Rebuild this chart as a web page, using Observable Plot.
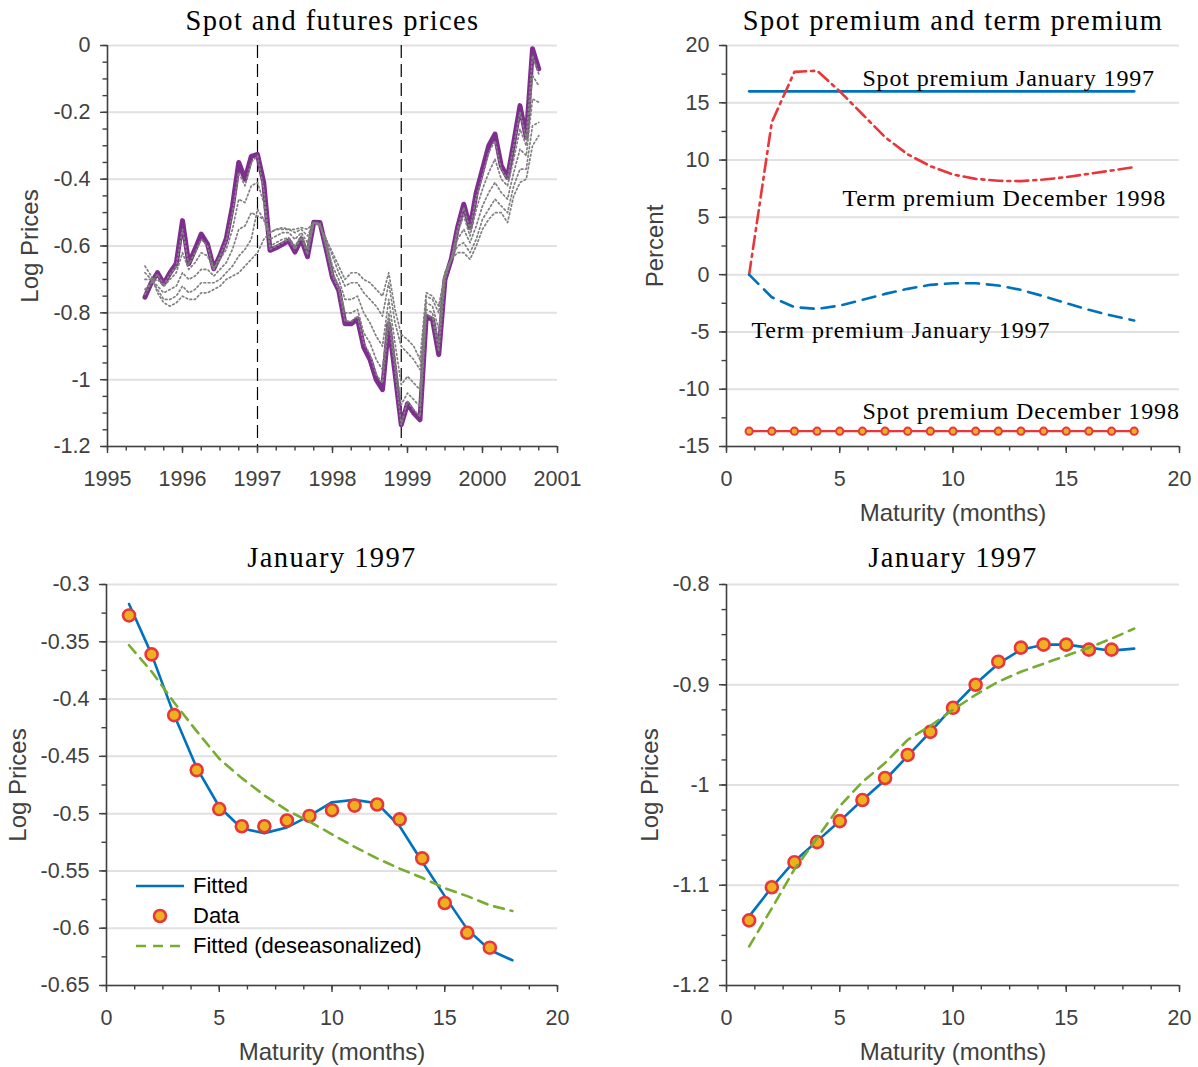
<!DOCTYPE html>
<html>
<head>
<meta charset="utf-8">
<script src="https://cdn.jsdelivr.net/npm/d3@7"></script>
<script src="https://cdn.jsdelivr.net/npm/@observablehq/plot@0.6"></script>
<style>
  html, body { margin: 0; padding: 0; background: #fff; }
  #root { position: relative; width: 1198px; height: 1067px; overflow: hidden; background: #fff; }
  .panel { position: absolute; }
  .legend { position: absolute; font-family: "Liberation Sans", Arial, sans-serif; font-size: 22px; color: #000; }
  .legend .row { display: flex; align-items: center; height: 30px; }
  .legend svg { display: block; margin-right: 7px; }
</style>
</head>
<body>
<div id="root"></div>
<script>
// ---------------- DATA ----------------
// Panel 1: monthly log spot price, July 1995 .. October 2000
const firstYear = 1995, firstMonth = 7;
const spotLog = [-0.753,-0.71,-0.68,-0.713,-0.68,-0.653,-0.524,-0.653,-0.61,-0.564,-0.594,-0.668,-0.628,-0.578,-0.48,-0.35,-0.40,-0.332,-0.326,-0.41,-0.613,-0.605,-0.595,-0.584,-0.618,-0.579,-0.632,-0.529,-0.53,-0.61,-0.695,-0.733,-0.833,-0.833,-0.818,-0.903,-0.94,-1.0,-1.03,-0.833,-0.98,-1.135,-1.072,-1.10,-1.12,-0.81,-0.82,-0.925,-0.70,-0.64,-0.545,-0.475,-0.545,-0.44,-0.37,-0.30,-0.265,-0.36,-0.395,-0.29,-0.18,-0.275,-0.01,-0.07];
// log futures prices for several maturities (months) at each date
const fut1 = [-0.745,-0.71,-0.685,-0.715,-0.685,-0.66,-0.55,-0.655,-0.62,-0.58,-0.60,-0.668,-0.63,-0.585,-0.50,-0.38,-0.42,-0.35,-0.33,-0.43,-0.61,-0.60,-0.59,-0.58,-0.61,-0.575,-0.625,-0.529,-0.532,-0.607,-0.69,-0.73,-0.825,-0.825,-0.81,-0.89,-0.925,-0.985,-1.01,-0.825,-0.97,-1.135,-1.065,-1.09,-1.11,-0.805,-0.815,-0.915,-0.70,-0.64,-0.55,-0.485,-0.55,-0.455,-0.39,-0.32,-0.285,-0.37,-0.40,-0.30,-0.20,-0.28,-0.03,-0.085];
const fut3 = [-0.73,-0.71,-0.70,-0.72,-0.70,-0.68,-0.62,-0.67,-0.65,-0.62,-0.63,-0.67,-0.64,-0.61,-0.55,-0.46,-0.47,-0.42,-0.41,-0.47,-0.60,-0.59,-0.58,-0.575,-0.60,-0.57,-0.61,-0.53,-0.535,-0.60,-0.68,-0.72,-0.80,-0.80,-0.79,-0.86,-0.89,-0.94,-0.97,-0.80,-0.94,-1.075,-1.04,-1.06,-1.08,-0.79,-0.80,-0.89,-0.69,-0.64,-0.56,-0.51,-0.57,-0.49,-0.43,-0.38,-0.34,-0.40,-0.42,-0.34,-0.25,-0.30,-0.09,-0.12];
const fut6 = [-0.70,-0.70,-0.72,-0.74,-0.73,-0.72,-0.68,-0.70,-0.69,-0.67,-0.67,-0.69,-0.67,-0.65,-0.61,-0.55,-0.54,-0.50,-0.51,-0.52,-0.58,-0.57,-0.56,-0.56,-0.58,-0.56,-0.59,-0.53,-0.54,-0.59,-0.66,-0.70,-0.76,-0.76,-0.75,-0.80,-0.83,-0.87,-0.90,-0.76,-0.89,-1.015,-0.99,-1.01,-1.03,-0.77,-0.78,-0.85,-0.68,-0.64,-0.58,-0.55,-0.59,-0.54,-0.48,-0.44,-0.41,-0.44,-0.46,-0.38,-0.31,-0.33,-0.16,-0.17];
const fut11 = [-0.68,-0.70,-0.73,-0.76,-0.76,-0.75,-0.72,-0.74,-0.73,-0.71,-0.71,-0.71,-0.70,-0.68,-0.66,-0.63,-0.61,-0.58,-0.49,-0.52,-0.56,-0.55,-0.55,-0.55,-0.56,-0.55,-0.57,-0.53,-0.54,-0.58,-0.63,-0.68,-0.72,-0.71,-0.71,-0.74,-0.76,-0.78,-0.81,-0.71,-0.83,-0.90,-0.92,-0.94,-0.97,-0.75,-0.76,-0.80,-0.68,-0.64,-0.60,-0.59,-0.62,-0.58,-0.52,-0.49,-0.46,-0.48,-0.50,-0.42,-0.37,-0.37,-0.24,-0.23];
const fut17 = [-0.66,-0.69,-0.74,-0.77,-0.78,-0.77,-0.75,-0.76,-0.76,-0.74,-0.74,-0.73,-0.72,-0.70,-0.69,-0.68,-0.66,-0.64,-0.62,-0.58,-0.56,-0.55,-0.545,-0.55,-0.55,-0.545,-0.55,-0.53,-0.54,-0.58,-0.62,-0.66,-0.70,-0.68,-0.68,-0.70,-0.71,-0.73,-0.75,-0.68,-0.79,-0.865,-0.88,-0.90,-0.94,-0.74,-0.75,-0.78,-0.68,-0.64,-0.62,-0.62,-0.64,-0.60,-0.55,-0.52,-0.50,-0.50,-0.53,-0.45,-0.41,-0.40,-0.30,-0.27];
const markedDates = [1997.0, 1998 + 11 / 12]; // January 1997, December 1998

// Panel 2: premiums by maturity (percent)
const maturities = [1,2,3,4,5,6,7,8,9,10,11,12,13,14,15,16,17,18];
const spotPremiumJan97 = 16.0;
const spotPremiumDec98 = -13.66;
const termPremiumDec98 = [0,13.3,17.7,17.8,16.0,14.0,12.0,10.5,9.47,8.74,8.36,8.19,8.16,8.30,8.51,8.80,9.09,9.38];
const termPremiumJan97 = [0,-1.97,-2.84,-2.99,-2.70,-2.20,-1.68,-1.24,-0.89,-0.75,-0.75,-0.95,-1.33,-1.88,-2.49,-3.07,-3.57,-4.0];
const premiumLabels = [
  {text: "Spot premium January 1997", x: 6.0, y: 17.1},
  {text: "Term premium December 1998", x: 5.12, y: 6.7},
  {text: "Term premium January 1997", x: 1.1, y: -4.9},
  {text: "Spot premium December 1998", x: 6.0, y: -11.9}
];

// Panel 3: term structure, January 1997
const dataMaturities = [1,2,3,4,5,6,7,8,9,10,11,12,13,14,15,16,17];
const dataA = [-0.327,-0.361,-0.414,-0.462,-0.496,-0.511,-0.511,-0.506,-0.502,-0.497,-0.493,-0.492,-0.505,-0.539,-0.578,-0.604,-0.617];
const fittedA = [-0.317,-0.361,-0.414,-0.460,-0.494,-0.513,-0.517,-0.512,-0.502,-0.490,-0.488,-0.491,-0.511,-0.542,-0.572,-0.601,-0.619,-0.628];
const deseasA = [-0.353,-0.376,-0.403,-0.428,-0.452,-0.469,-0.484,-0.497,-0.507,-0.518,-0.529,-0.539,-0.548,-0.556,-0.565,-0.572,-0.580,-0.585];

// Panel 4: term structure (second date)
const dataB = [-1.135,-1.102,-1.077,-1.057,-1.036,-1.015,-0.993,-0.970,-0.947,-0.923,-0.900,-0.877,-0.863,-0.860,-0.860,-0.865,-0.865];
const fittedB = [-1.131,-1.102,-1.076,-1.056,-1.036,-1.015,-0.995,-0.971,-0.947,-0.922,-0.899,-0.879,-0.865,-0.860,-0.860,-0.863,-0.866,-0.864];
const deseasB = [-1.161,-1.123,-1.084,-1.053,-1.021,-0.997,-0.978,-0.955,-0.941,-0.925,-0.910,-0.897,-0.887,-0.879,-0.871,-0.863,-0.854,-0.844];

// Tick labels
const yearTicks = [1995,1996,1997,1998,1999,2000,2001];
const logTicksTL = [0,-0.2,-0.4,-0.6,-0.8,-1,-1.2];
const pctTicks = [-15,-10,-5,0,5,10,15,20];
const matTicks = [0,5,10,15,20];
const logTicksBL = [-0.3,-0.35,-0.4,-0.45,-0.5,-0.55,-0.6,-0.65];
const logTicksBR = [-0.8,-0.9,-1,-1.1,-1.2];

// ---------------- STYLE ----------------
const BLUE = "#0072BD", RED = "#E8363B", ORANGE = "#EDB120", GREEN = "#77AC30", PURPLE = "#7E2F8E", GREY = "#808080";
const AXIS = "#404040";
const SANS = "'Liberation Sans', Arial, Helvetica, sans-serif";
const SERIF = "'Liberation Serif', 'Times New Roman', serif";
const baseStyle = {fontFamily: SANS, fontSize: "21.5px", color: AXIS, background: "transparent", overflow: "visible"};
const num = d => String(+(+d).toFixed(3));

function frameMarks({xDomain, yDomain, xTicks, xMinor, yTicks, yMinor}) {
  return [
    Plot.axisX(xMinor, {tickSize: 4.5, tickFormat: () => "", label: null, strokeWidth: 1.4}),
    Plot.axisX(xTicks, {tickSize: 7, tickPadding: 17, tickFormat: num, label: null, strokeWidth: 1.4}),
    Plot.axisY(yMinor, {tickSize: 4.5, tickFormat: () => "", label: null, strokeWidth: 1.4}),
    Plot.axisY(yTicks, {tickSize: 7, tickPadding: 10, tickFormat: num, label: null, strokeWidth: 1.4}),
    Plot.ruleX([xDomain[0]], {stroke: AXIS, strokeWidth: 1.6}),
    Plot.ruleY([yDomain[0]], {stroke: AXIS, strokeWidth: 1.6})
  ];
}
function grid(ticks) {
  return Plot.gridY(ticks, {stroke: "#e1e1e1", strokeOpacity: 1, strokeWidth: 2});
}
const titleTexts = new Set();
function title(t, dy) {
  titleTexts.add(t);
  return Plot.text([t], {frameAnchor: "top", dy, textAnchor: "middle", lineAnchor: "middle", fontFamily: SERIF, fontSize: 28.5, fill: "#000"});
}
function yLabel(t, dx) {
  return Plot.text([t], {frameAnchor: "left", dx, rotate: -90, textAnchor: "middle", lineAnchor: "middle", fontSize: 24, fill: AXIS});
}
function xLabel(t, dy) {
  return Plot.text([t], {frameAnchor: "bottom", dy, textAnchor: "middle", lineAnchor: "middle", fontSize: 24, fill: AXIS});
}
const annotationTexts = new Set(premiumLabels.map(d => d.text));

const root = document.getElementById("root");
function place(node, left, top) {
  // serif text in the reference is a wide (Computer Modern) face: widen with letter spacing
  node.querySelectorAll("text").forEach(el => {
    if (titleTexts.has(el.textContent)) el.style.letterSpacing = "1.4px";
    else if (annotationTexts.has(el.textContent)) el.style.letterSpacing = "0.85px";
  });
  const d = document.createElement("div");
  d.className = "panel";
  d.style.left = left + "px";
  d.style.top = top + "px";
  d.appendChild(node);
  root.appendChild(d);
}

// ---------------- PANEL 1 ----------------
const dates = spotLog.map((_, i) => firstYear + (firstMonth - 1 + i) / 12);
const spotRows = spotLog.map((v, i) => ({t: dates[i], v}));
const futSeries = [{m: 1, values: fut1}, {m: 3, values: fut3}, {m: 6, values: fut6}, {m: 11, values: fut11}, {m: 17, values: fut17}];
const futRows = futSeries.flatMap(s => s.values.map((v, i) => ({t: dates[i], v, m: s.m})));
{
  const xDomain = [1995, 2001], yDomain = [-1.2, 0];
  const p = Plot.plot({
    width: 599, height: 530, marginLeft: 107, marginRight: 42, marginTop: 45, marginBottom: 84,
    x: {domain: xDomain}, y: {domain: yDomain},
    style: baseStyle,
    marks: [
      grid(logTicksTL),
      Plot.ruleX(markedDates, {stroke: "#000", strokeWidth: 1.2, strokeDasharray: "13,6"}),
      Plot.line(spotRows, {x: "t", y: "v", stroke: PURPLE, strokeWidth: 5, strokeLinejoin: "round"}),
      Plot.line(futRows, {x: "t", y: "v", z: "m", stroke: GREY, strokeWidth: 1.7, strokeDasharray: "1.7,2.6"}),
      ...frameMarks({xDomain, yDomain, xTicks: yearTicks, xMinor: d3.range(1995, 2001.001, 0.25), yTicks: logTicksTL, yMinor: d3.range(-1.2, 0.0001, 0.05)}),
      title("Spot and futures prices", -25),
      yLabel("Log Prices", -77)
    ]
  });
  place(p, 0, 0);
}

// ---------------- PANEL 2 ----------------
{
  const xDomain = [0, 20], yDomain = [-15, 20];
  const p = Plot.plot({
    width: 599, height: 530, marginLeft: 127, marginRight: 19, marginTop: 45, marginBottom: 84,
    x: {domain: xDomain}, y: {domain: yDomain},
    style: baseStyle,
    marks: [
      grid(pctTicks),
      Plot.line(maturities, {x: d => d, y: () => spotPremiumJan97, stroke: BLUE, strokeWidth: 2.6}),
      Plot.line(maturities, {x: d => d, y: (d, i) => termPremiumDec98[i], stroke: RED, strokeWidth: 2.6, strokeDasharray: "13,5,3,5"}),
      Plot.line(maturities, {x: d => d, y: (d, i) => termPremiumJan97[i], stroke: BLUE, strokeWidth: 2.6, strokeDasharray: "13,8"}),
      Plot.line(maturities, {x: d => d, y: () => spotPremiumDec98, stroke: RED, strokeWidth: 2.2}),
      Plot.dot(maturities, {x: d => d, y: () => spotPremiumDec98, r: 3.6, fill: ORANGE, stroke: RED, strokeWidth: 2}),
      Plot.text(premiumLabels, {x: "x", y: "y", text: "text", textAnchor: "start", lineAnchor: "middle", fontFamily: SERIF, fontSize: 24, fill: "#000"}),
      ...frameMarks({xDomain, yDomain, xTicks: matTicks, xMinor: d3.range(0, 20.001, 1.25), yTicks: pctTicks, yMinor: d3.range(-15, 20.001, 2.5)}),
      title("Spot premium and term premium", -25),
      yLabel("Percent", -71),
      xLabel("Maturity (months)", 67)
    ]
  });
  place(p, 599, 0);
}

// ---------------- PANEL 3 ----------------
{
  const xDomain = [0, 20], yDomain = [-0.65, -0.3];
  const p = Plot.plot({
    width: 599, height: 537, marginLeft: 106, marginRight: 42, marginTop: 54, marginBottom: 82,
    x: {domain: xDomain}, y: {domain: yDomain},
    style: baseStyle,
    marks: [
      grid(logTicksBL),
      Plot.line(maturities, {x: d => d, y: (d, i) => fittedA[i], stroke: BLUE, strokeWidth: 2.6}),
      Plot.dot(dataMaturities, {x: d => d, y: (d, i) => dataA[i], r: 6, fill: ORANGE, stroke: RED, strokeWidth: 2.6}),
      Plot.line(maturities, {x: d => d, y: (d, i) => deseasA[i], stroke: GREEN, strokeWidth: 2.6, strokeDasharray: "10,7"}),
      ...frameMarks({xDomain, yDomain, xTicks: matTicks, xMinor: d3.range(0, 20.001, 1.25), yTicks: logTicksBL, yMinor: d3.range(-0.65, -0.2999, 0.025)}),
      title("January 1997", -27),
      yLabel("Log Prices", -88),
      xLabel("Maturity (months)", 67)
    ]
  });
  place(p, 0, 530);
}

// ---------------- PANEL 4 ----------------
{
  const xDomain = [0, 20], yDomain = [-1.2, -0.8];
  const p = Plot.plot({
    width: 599, height: 537, marginLeft: 127, marginRight: 19, marginTop: 54, marginBottom: 82,
    x: {domain: xDomain}, y: {domain: yDomain},
    style: baseStyle,
    marks: [
      grid(logTicksBR),
      Plot.line(maturities, {x: d => d, y: (d, i) => fittedB[i], stroke: BLUE, strokeWidth: 2.6}),
      Plot.dot(dataMaturities, {x: d => d, y: (d, i) => dataB[i], r: 6, fill: ORANGE, stroke: RED, strokeWidth: 2.6}),
      Plot.line(maturities, {x: d => d, y: (d, i) => deseasB[i], stroke: GREEN, strokeWidth: 2.6, strokeDasharray: "10,7"}),
      ...frameMarks({xDomain, yDomain, xTicks: matTicks, xMinor: d3.range(0, 20.001, 1.25), yTicks: logTicksBR, yMinor: d3.range(-1.2, -0.7999, 0.025)}),
      title("January 1997", -27),
      yLabel("Log Prices", -76),
      xLabel("Maturity (months)", 67)
    ]
  });
  place(p, 599, 530);
}

// ---------------- LEGEND (panel 3) ----------------
{
  const lg = document.createElement("div");
  lg.className = "legend";
  lg.style.left = "134px";
  lg.style.top = "871px";
  const items = [
    {label: "Fitted", svg: `<line x1="2" y1="15" x2="50" y2="15" stroke="${BLUE}" stroke-width="2.6"/>`},
    {label: "Data", svg: `<circle cx="26" cy="15" r="6" fill="${ORANGE}" stroke="${RED}" stroke-width="2.6"/>`},
    {label: "Fitted (deseasonalized)", svg: `<line x1="2" y1="15" x2="50" y2="15" stroke="${GREEN}" stroke-width="2.6" stroke-dasharray="10,7"/>`}
  ];
  lg.innerHTML = items.map(it => `<div class="row"><svg width="52" height="30">${it.svg}</svg><span>${it.label}</span></div>`).join("");
  root.appendChild(lg);
}
</script>
</body>
</html>
